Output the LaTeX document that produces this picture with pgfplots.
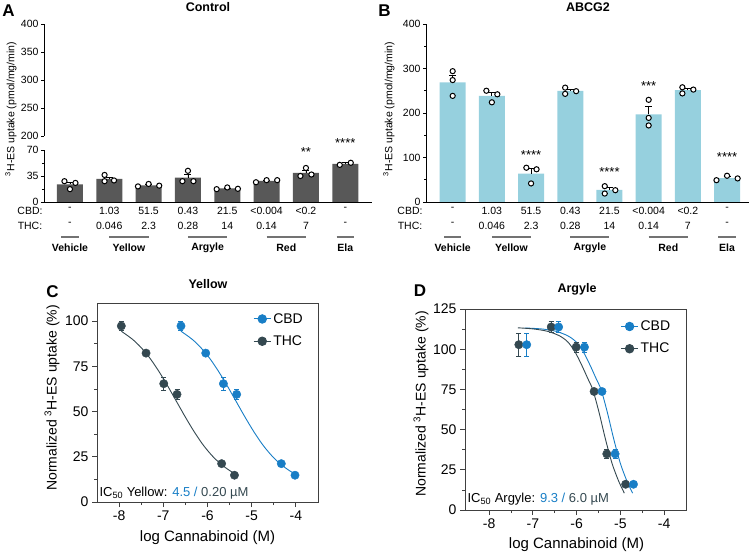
\documentclass[border=0pt]{standalone}
\usepackage{pgfplots}
\pgfplotsset{compat=1.18}
\usepackage{fontspec}
\setmainfont{Liberation Sans}
\definecolor{cbd}{RGB}{24,126,198}
\definecolor{thc}{RGB}{52,72,80}
\definecolor{bargray}{RGB}{88,88,88}
\definecolor{barblue}{RGB}{150,208,222}
\newcommand{\fs}[1]{\fontsize{#1}{#1}\selectfont}
\tikzset{grpline/.style={black!55, line width=1.2pt}}

\pgfplotsset{
 barax/.style={scale only axis, anchor=south west, axis x line*=bottom, axis y line*=left,
   tick align=outside, /pgf/number format/assume math mode=true,
   yticklabel style={font=\fs{10.5}, xshift=1pt}, major tick length=3pt, minor tick length=2pt,
   axis line style={black, line width=0.8pt}, tick style={black, line width=0.8pt}, clip=false,
   xtick={0,...,7}, x tick style={draw=none},
   xticklabels={{-\\-},{1.03\\0.046},{51.5\\2.3},{0.43\\0.28},{21.5\\14},{<0.004\\0.14},{<0.2\\7},{-\\-}},
   xticklabel style={align=center, font=\fontsize{10.5}{15}\selectfont, yshift=1pt}},
 barplot/.style={ybar, bar width=26pt, draw=none, fill=#1,
   error bars/.cd, y dir=plus, y explicit,
   error bar style={black, line width=0.8pt},
   error mark options={rotate=90, mark size=3.5pt, black, line width=0.8pt}},
 dots/.style={only marks, mark=*, mark size=2.6pt, mark options={fill=white, draw=black, line width=1pt}},
 curveax/.style={scale only axis, anchor=south west, axis lines=box, xtick pos=bottom, ytick pos=left,
   tick align=outside, /pgf/number format/assume math mode=true,
   ticklabel style={font=\fs{14}}, major tick length=5pt, minor tick length=3pt,
   axis line style={black!75, line width=0.8pt}, tick style={black!75, line width=0.8pt},
   xtick={-8,...,-4}, xticklabels={-8,-7,-6,-5,-4}, minor x tick num=1, minor y tick num=1,
   clip=false,
   legend style={draw=none, fill=none, font=\fs{14}, row sep=7pt, inner sep=0pt},
   legend cell align=left},
 ptsC/.style={only marks, mark=*, mark size=4.2pt, #1, mark options={fill=#1, draw=#1},
   error bars/.cd, y dir=both, y explicit, error bar style={#1, line width=0.8pt},
   error mark options={rotate=90, mark size=2.5pt, #1, line width=0.8pt}},
}

\begin{document}
\begin{tikzpicture}[x=1pt,y=1pt]
\path[use as bounding box] (0,0) rectangle (754,554);

% ---------------- Panel A ----------------
\begin{axis}[barax, at={(44pt,352pt)}, width=328pt, height=52pt,
  xmin=-0.66, xmax=7.68, ymin=0, ymax=70, ytick={0,35,70}, minor ytick={17.5,52.5}]
\addplot[barplot=bargray] table[x=x, y=y, y error=e] {
x y e
0 23.7 3.2
1 31.1 2.6
2 22.4 1.0
3 32.7 4.7
4 18.2 0.7
5 28.5 0.9
6 39.3 3.3
7 51.4 1.4
};
\addplot[dots] table {
-0.14 28
0 17.3
0.14 25.7
0.88 36.4
0.88 28
1.12 29
1.73 21
2 24.3
2.27 22
3 42
2.86 28
3.14 28
3.73 17.3
4 19.6
4.27 17.8
4.73 26.6
5 29.4
5.27 29.4
6 45.8
5.86 35
6.14 37
6.86 50
7.14 52.8
};
\node[font=\fs{13}] at (axis cs:6,67) {**};
\node[font=\fs{13}] at (axis cs:7,79) {****};
\draw[grpline] ([yshift=-35pt]axis cs:-0.22,0) -- ([yshift=-35pt]axis cs:0.22,0);
\draw[grpline] ([yshift=-35pt]axis cs:1,0) -- ([yshift=-35pt]axis cs:2,0);
\draw[grpline] ([yshift=-35pt]axis cs:3,0) -- ([yshift=-35pt]axis cs:4,0);
\draw[grpline] ([yshift=-35pt]axis cs:5,0) -- ([yshift=-35pt]axis cs:6,0);
\draw[grpline] ([yshift=-35pt]axis cs:6.78,0) -- ([yshift=-35pt]axis cs:7.22,0);
\node[font=\bfseries\fs{10.5}] at ([yshift=-46pt]axis cs:0,0) {Vehicle};
\node[font=\bfseries\fs{10.5}] at ([yshift=-46pt]axis cs:1.5,0) {Yellow};
\node[font=\bfseries\fs{10.5}] at ([yshift=-46pt]axis cs:3.5,0) {Argyle};
\node[font=\bfseries\fs{10.5}] at ([yshift=-46pt]axis cs:5.5,0) {Red};
\node[font=\bfseries\fs{10.5}] at ([yshift=-46pt]axis cs:7,0) {Ela};
\end{axis}

\begin{axis}[scale only axis, anchor=south west, at={(44pt,418pt)}, width=328pt, height=112pt,
  xmin=-0.66, xmax=7.68, ymin=200, ymax=400, ytick={200,250,...,400},
  axis x line=none, axis y line*=left, tick align=outside,
  /pgf/number format/assume math mode=true, yticklabel style={font=\fs{10.5}, xshift=1pt},
  major tick length=3pt, axis line style={black, line width=0.8pt}, tick style={black, line width=0.8pt}]
\addplot[draw=none] coordinates {(0,300)};
\end{axis}

% ---------------- Panel B ----------------
\begin{axis}[barax, at={(426pt,352pt)}, width=323pt, height=178pt,
  xmin=-0.68, xmax=7.56, ymin=0, ymax=400, ytick={0,100,...,400}, minor ytick={50,150,250,350}]
\addplot[barplot=barblue] table[x=x, y=y, y error=e] {
x y e
0 269 16
1 238.7 7.7
2 64 11
3 249.7 4
4 27 4.8
5 196.9 17
6 251.5 4
7 53.7 3
};
\addplot[dots] table {
0 294
0 274
0 238.5
0.86 250
1.14 242
1 224
1.88 77
2.14 73.5
2 41.7
2.87 257
2.87 243
3.15 249
3.88 35.6
3.88 19
4.15 26.5
5 229.6
5 189
5 172
5.86 257.8
5.86 244
6.14 252.6
6.73 49
7 59
7.27 53
};
\node[font=\fs{13}] at (axis cs:2,106) {****};
\node[font=\fs{13}] at (axis cs:4,68) {****};
\node[font=\fs{13}] at (axis cs:5,261) {***};
\node[font=\fs{13}] at (axis cs:7,102) {****};
\draw[grpline] ([yshift=-35pt]axis cs:-0.22,0) -- ([yshift=-35pt]axis cs:0.22,0);
\draw[grpline] ([yshift=-35pt]axis cs:1,0) -- ([yshift=-35pt]axis cs:2,0);
\draw[grpline] ([yshift=-35pt]axis cs:3,0) -- ([yshift=-35pt]axis cs:4,0);
\draw[grpline] ([yshift=-35pt]axis cs:5,0) -- ([yshift=-35pt]axis cs:6,0);
\draw[grpline] ([yshift=-35pt]axis cs:6.78,0) -- ([yshift=-35pt]axis cs:7.22,0);
\node[font=\bfseries\fs{10.5}] at ([yshift=-46pt]axis cs:0,0) {Vehicle};
\node[font=\bfseries\fs{10.5}] at ([yshift=-46pt]axis cs:1.5,0) {Yellow};
\node[font=\bfseries\fs{10.5}] at ([yshift=-46pt]axis cs:3.5,0) {Argyle};
\node[font=\bfseries\fs{10.5}] at ([yshift=-46pt]axis cs:5.5,0) {Red};
\node[font=\bfseries\fs{10.5}] at ([yshift=-46pt]axis cs:7,0) {Ela};
\end{axis}

% ---------------- Panel C ----------------
\begin{axis}[curveax, at={(97pt,52pt)}, width=221pt, height=199pt,
  xmin=-8.5, xmax=-3.5, ymin=0, ymax=110, ytick={0,25,...,100},
  legend style={at={(axis cs:-4.97,105.5)}, anchor=north west}]
\addlegendimage{cbd, line width=1pt, mark=*, mark size=4.2pt, mark options={fill=cbd}}
\addlegendentry{CBD}
\addlegendimage{thc, line width=1pt, mark=*, mark size=4.2pt, mark options={fill=thc}}
\addlegendentry{THC}
\addplot[forget plot, cbd, line width=0.9pt, smooth] coordinates {
(-6.60,94.4) (-6.35,90.0) (-6.15,85.3) (-5.95,79.4) (-5.75,72.2) (-5.55,64.1) (-5.35,55.5)
(-5.15,46.9) (-4.95,38.8) (-4.75,31.6) (-4.55,25.7) (-4.35,21.0) (-4.15,17.4) (-4.00,15.3)};
\addplot[forget plot, thc, line width=0.9pt, smooth] coordinates {
(-7.95,94.4) (-7.70,90.0) (-7.50,85.3) (-7.30,79.4) (-7.10,72.2) (-6.90,64.1) (-6.70,55.5)
(-6.50,46.9) (-6.30,38.8) (-6.10,31.6) (-5.90,25.7) (-5.70,21.0) (-5.50,17.4) (-5.38,15.6)};
\addplot[forget plot, ptsC=cbd] table[x=x, y=y, y error=e] {
x y e
-6.60 97.3 2.5
-6.04 82.3 1.5
-5.64 65.4 3.5
-5.34 59.5 3
-4.33 21.2 1
-4.02 14.8 1
};
\addplot[forget plot, ptsC=thc] table[x=x, y=y, y error=e] {
x y e
-7.95 97.3 2.5
-7.39 82.3 1.5
-6.99 65.4 3.5
-6.69 59.5 3
-5.68 21.2 1
-5.39 14.8 1
};
\node[anchor=base west, font=\fs{13}, inner sep=1pt] at (axis cs:-8.47,3)
  {IC\textsubscript{50} Yellow: \textcolor{cbd}{4.5 /} \textcolor{thc}{0.20 µM}};
\end{axis}

% ---------------- Panel D ----------------
\begin{axis}[curveax, at={(465pt,44pt)}, width=221pt, height=201pt,
  xmin=-8.55, xmax=-3.5, ymin=0, ymax=125, ytick={0,25,...,125},
  legend style={at={(axis cs:-5.0,119)}, anchor=north west}]
\addlegendimage{cbd, line width=1pt, mark=*, mark size=4.2pt, mark options={fill=cbd}}
\addlegendentry{CBD}
\addlegendimage{thc, line width=1pt, mark=*, mark size=4.2pt, mark options={fill=thc}}
\addlegendentry{THC}
\addplot[forget plot, cbd, line width=0.9pt, smooth] coordinates {
(-7.19,113.2) (-6.80,112.6) (-6.47,111.1) (-6.20,108.3) (-6.01,104.5) (-5.85,98.5) (-5.70,90.5)
(-5.55,81.5) (-5.44,74.8) (-5.30,61) (-5.15,44) (-5.00,29) (-4.85,18) (-4.72,10.5)};
\addplot[forget plot, thc, line width=0.9pt, smooth] coordinates {
(-7.34,113.3) (-6.99,112.6) (-6.66,111.1) (-6.39,108.3) (-6.20,104.5) (-6.04,98.5) (-5.89,90.5)
(-5.74,81.5) (-5.63,74.8) (-5.49,61) (-5.34,44) (-5.19,29) (-5.04,18) (-4.91,10.5)};
\addplot[forget plot, ptsC=thc] table[x=x, y=y, y error=e] {
x y e
-7.32 102.8 7
-6.58 113.8 3.5
-6.01 101.3 3
-5.60 73.7 1
-5.31 34.9 3
-4.88 16.0 1
};
\addplot[forget plot, ptsC=cbd] table[x=x, y=y, y error=e] {
x y e
-7.14 102.8 7
-6.41 113.8 3.5
-5.82 101.3 3
-5.42 73.7 1
-5.12 34.9 3
-4.70 16.0 1
};
\node[anchor=base west, font=\fs{13}, inner sep=1pt] at (axis cs:-8.52,4.7)
  {IC\textsubscript{50} Argyle: \textcolor{cbd}{9.3 /} \textcolor{thc}{6.0 µM}};
\end{axis}

% ---------------- Labels ----------------
\node[font=\bfseries\fs{17}] at (8.5,543) {A};
\node[font=\bfseries\fs{17}] at (384.5,543) {B};
\node[font=\bfseries\fs{17}] at (52.5,262.5) {C};
\node[font=\bfseries\fs{17}] at (420,263) {D};
\node[font=\bfseries\fs{12.5}] at (208,547) {Control};
\node[font=\bfseries\fs{12.5}] at (588,547) {ABCG2};
\node[font=\bfseries\fs{12.5}] at (208,270) {Yellow};
\node[font=\bfseries\fs{12.5}] at (577,265) {Argyle};
\node[rotate=90, font=\fs{10.5}] at (11,445) {\textsuperscript{3}H-ES uptake (pmol/mg/min)};
\node[rotate=90, font=\fs{10.5}] at (389,445) {\textsuperscript{3}H-ES uptake (pmol/mg/min)};
\node[font=\fs{10.5}] at (30,343) {CBD:};
\node[font=\fs{10.5}] at (30,328) {THC:};
\node[font=\fs{10.5}] at (410,343) {CBD:};
\node[font=\fs{10.5}] at (410,328) {THC:};
\node[rotate=90, font=\fs{14}] at (52,156) {Normalized \textsuperscript{3}H-ES uptake (\%)};
\node[rotate=90, font=\fs{14}] at (421,150) {Normalized \textsuperscript{3}H-ES uptake (\%)};
\node[font=\fs{15}] at (207.5,16) {log Cannabinoid (M)};
\node[font=\fs{15}] at (576.5,9) {log Cannabinoid (M)};
\end{tikzpicture}
\end{document}
